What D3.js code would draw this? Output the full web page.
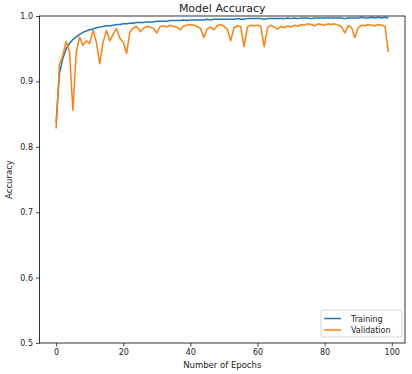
<!DOCTYPE html>
<html>
<head>
<meta charset="utf-8">
<script src="https://cdn.jsdelivr.net/npm/d3@7"></script>
<style>
  body { margin: 0; background: #fff; }
  svg text { font-family: "DejaVu Sans", sans-serif; fill: #222; }
</style>
</head>
<body>
<svg id="chart" width="412" height="374"></svg>
<script>
// accuracy per epoch
const trainAcc = [
  0.838, 0.912, 0.935, 0.950, 0.958, 0.964, 0.968, 0.972, 0.975, 0.977,
  0.979, 0.980, 0.982, 0.983, 0.984, 0.985, 0.985, 0.986, 0.987, 0.987,
  0.988, 0.988, 0.989, 0.989, 0.990, 0.990, 0.990, 0.991, 0.991, 0.991,
  0.992, 0.992, 0.992, 0.992, 0.993, 0.993, 0.993, 0.993, 0.994, 0.993,
  0.994, 0.994, 0.994, 0.994, 0.994, 0.995, 0.994, 0.995, 0.995, 0.995,
  0.995, 0.995, 0.995, 0.995, 0.996, 0.995, 0.995, 0.996, 0.996, 0.996,
  0.996, 0.996, 0.995, 0.996, 0.996, 0.996, 0.996, 0.996, 0.996, 0.997,
  0.996, 0.997, 0.996, 0.997, 0.997, 0.997, 0.996, 0.997, 0.997, 0.997,
  0.997, 0.997, 0.997, 0.997, 0.997, 0.997, 0.996, 0.997, 0.997, 0.997,
  0.997, 0.998, 0.997, 0.997, 0.998, 0.997, 0.998, 0.997, 0.998, 0.997
];
const valAcc = [
  0.828, 0.926, 0.940, 0.961, 0.945, 0.856, 0.945, 0.968, 0.955, 0.962,
  0.958, 0.978, 0.960, 0.927, 0.960, 0.978, 0.962, 0.972, 0.981, 0.966,
  0.960, 0.943, 0.976, 0.982, 0.984, 0.976, 0.981, 0.984, 0.983, 0.981,
  0.974, 0.984, 0.985, 0.983, 0.986, 0.984, 0.983, 0.979, 0.985, 0.986,
  0.987, 0.986, 0.984, 0.981, 0.967, 0.980, 0.983, 0.979, 0.985, 0.987,
  0.984, 0.980, 0.962, 0.982, 0.985, 0.984, 0.953, 0.983, 0.986, 0.985,
  0.986, 0.984, 0.953, 0.982, 0.986, 0.983, 0.980, 0.984, 0.982, 0.985,
  0.983, 0.986, 0.984, 0.987, 0.986, 0.988, 0.987, 0.985, 0.988, 0.987,
  0.986, 0.988, 0.987, 0.988, 0.986, 0.984, 0.974, 0.985, 0.983, 0.967,
  0.982, 0.986, 0.985, 0.987, 0.986, 0.985, 0.987, 0.986, 0.984, 0.945
];
const xTicks = [0, 20, 40, 60, 80, 100];
const yTicks = [0.5, 0.6, 0.7, 0.8, 0.9, 1.0];
const seriesNames = ["Training", "Validation"];
const seriesColors = ["#1f77b4", "#ff7f0e"];

const svg = d3.select("#chart");
const plotL = 39.5, plotR = 405, plotT = 16, plotB = 343;

let n = trainAcc.length;
let pad = (n - 1) * 0.05;
let x = d3.scaleLinear().domain([-pad, n - 1 + pad]).range([plotL, plotR]);
let y = d3.scaleLinear().domain([0.5, 1.0]).range([plotB, plotT]);

svg.append("clipPath").attr("id", "clip")
  .append("rect")
  .attr("x", plotL).attr("y", plotT)
  .attr("width", plotR - plotL).attr("height", plotB - plotT);

// lines
let line = d3.line()
  .x((d, i) => x(i))
  .y(d => y(d));

[trainAcc, valAcc].forEach(function(series, k){
  svg.append("path")
    .datum(series)
    .attr("clip-path", "url(#clip)")
    .attr("fill", "none")
    .attr("stroke", seriesColors[k])
    .attr("stroke-width", 1.5)
    .attr("stroke-linejoin", "round")
    .attr("d", line);
});

// axes
let xAxis = d3.axisBottom(x).tickValues(xTicks).tickSize(3.5).tickSizeOuter(0).tickPadding(3);
let gx = svg.append("g").attr("transform", "translate(0," + plotB + ")").call(xAxis);
let yAxis = d3.axisLeft(y).tickValues(yTicks).tickFormat(d3.format(".1f")).tickSize(3.5).tickSizeOuter(0).tickPadding(3);
let gy = svg.append("g").attr("transform", "translate(" + plotL + ",0)").call(yAxis);

[gx, gy].forEach(function(g){
  g.select(".domain").remove();
  g.selectAll(".tick line").attr("stroke", "#222").attr("stroke-width", 0.8);
  g.selectAll(".tick text").attr("font-size", 8).attr("font-family", "DejaVu Sans").attr("fill", "#222");
});

// spines
svg.append("rect")
  .attr("x", plotL).attr("y", plotT)
  .attr("width", plotR - plotL).attr("height", plotB - plotT)
  .attr("fill", "none").attr("stroke", "#000").attr("stroke-width", 0.8);

// titles
svg.append("text")
  .attr("x", (plotL + plotR) / 2).attr("y", 12)
  .attr("text-anchor", "middle").attr("font-size", 11)
  .text("Model Accuracy");

svg.append("text")
  .attr("x", (plotL + plotR) / 2).attr("y", 368)
  .attr("text-anchor", "middle").attr("font-size", 8.5)
  .text("Number of Epochs");

svg.append("text")
  .attr("transform", "translate(12," + (plotT + plotB) / 2 + ") rotate(-90)")
  .attr("text-anchor", "middle").attr("font-size", 8.5)
  .text("Accuracy");

// legend
let lg = svg.append("g").attr("transform", "translate(321,310)");
lg.append("rect")
  .attr("width", 81).attr("height", 27).attr("rx", 2)
  .attr("fill", "#fff").attr("fill-opacity", 0.8)
  .attr("stroke", "#ccc").attr("stroke-width", 0.8);

seriesNames.forEach(function(name, k){
  let ly = 8.5 + k * 11.5;
  lg.append("line")
    .attr("x1", 3).attr("x2", 20).attr("y1", ly).attr("y2", ly)
    .attr("stroke", seriesColors[k]).attr("stroke-width", 1.5);
  lg.append("text")
    .attr("x", 30).attr("y", ly + 3)
    .attr("font-size", 8)
    .text(name);
});
</script>
</body>
</html>
